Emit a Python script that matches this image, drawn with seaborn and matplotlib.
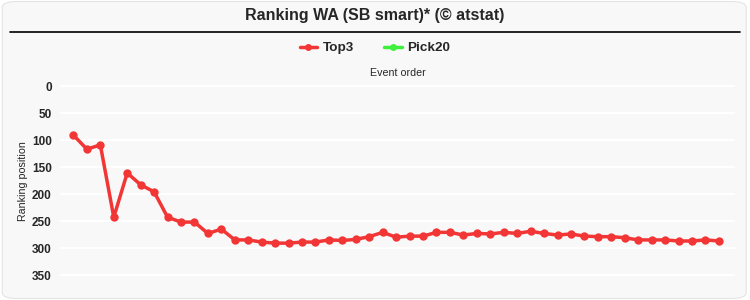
import matplotlib
matplotlib.use("Agg")
import matplotlib.pyplot as plt
import seaborn as sns
import pandas as pd
from matplotlib.patches import FancyBboxPatch
from matplotlib.lines import Line2D

# ---- data ----
top3_rank = [91, 117, 109, 243, 161, 183, 196, 243, 252, 252,
             273, 265, 285, 285, 289, 291, 291, 289, 289, 285,
             286, 284, 279, 271, 280, 278, 278, 271, 271, 276,
             273, 274, 271, 273, 269, 273, 276, 274, 278, 279,
             279, 281, 285, 285, 285, 287, 287, 285, 287]
series_names = ["Top3", "Pick20"]
series_colors = ["#f23535", "#3cf03c"]
y_ticks = [0, 50, 100, 150, 200, 250, 300, 350]

df = pd.DataFrame({"event": list(range(len(top3_rank))),
                   "rank": top3_rank,
                   "series": series_names[0]})

sns.set_theme(style="white")
plt.rcParams["font.family"] = ["Liberation Sans", "DejaVu Sans"]

fig = plt.figure(figsize=(7.5, 3.0), dpi=100)
fig.patch.set_facecolor("white")
bg = FancyBboxPatch((0.003, 0.005), 0.992, 0.99,
                    boxstyle="round,pad=0,rounding_size=0.02",
                    transform=fig.transFigure, facecolor="#f8f8f8",
                    edgecolor="#e4e4e4", linewidth=0.8, zorder=-10)
fig.patches.append(bg)

ax = fig.add_axes([0.08, 0.0293, 0.90, 0.702])
ax.set_facecolor("none")

sns.lineplot(data=df, x="event", y="rank", hue="series",
             palette={series_names[0]: series_colors[0]},
             marker="o", markersize=6, markeredgewidth=0,
             linewidth=2.5, ax=ax, legend=False)

ax.set_xlim(-1, 49.2)
ax.set_ylim(380, -10)
ax.set_yticks(y_ticks)
ax.set_yticklabels([str(t) for t in y_ticks], fontweight="bold", fontsize=8.5)
ax.tick_params(axis="y", length=0, pad=6)
ax.set_xticks([])
ax.grid(axis="y", color="#ffffff", linewidth=1.5)
ax.set_axisbelow(True)
for s in ax.spines.values():
    s.set_visible(False)

ax.set_ylabel("Ranking position", fontsize=7.7)
ax.yaxis.set_label_coords(-0.048, 0.523)
ax.xaxis.set_label_position("top")
ax.set_xlabel("Event order", fontsize=7.7, labelpad=3)

fig.text(0.5, 0.948, "Ranking WA (SB smart)* (\u00a9 atstat)", ha="center",
         va="center", fontsize=11.5, fontweight="bold")
fig.add_artist(Line2D([0.013, 0.987], [0.894, 0.894], color="black",
                      linewidth=1.2, transform=fig.transFigure))

handles = [Line2D([], [], color=c, marker="o", markersize=5, linewidth=2.5,
                  markeredgewidth=0) for c in series_colors]
fig.legend(handles, series_names, loc="center", bbox_to_anchor=(0.5, 0.84),
           ncol=2, frameon=False, prop={"weight": "bold", "size": 9.7},
           handlelength=1.3, columnspacing=2.2, handletextpad=0.45)

fig.savefig("out.png", dpi=100, facecolor=fig.get_facecolor())
